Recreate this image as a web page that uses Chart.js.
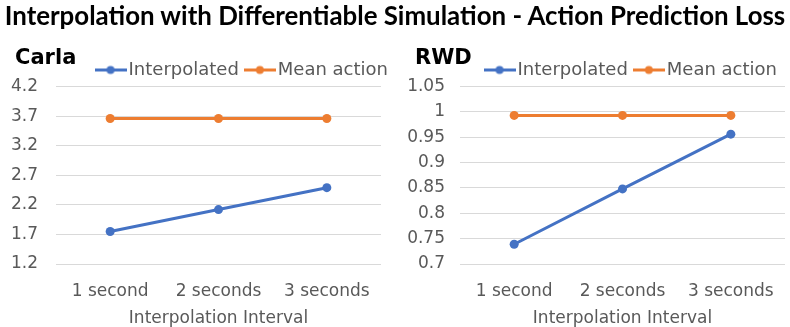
<!DOCTYPE html>
<html><head><meta charset="utf-8">
<script src="https://cdn.jsdelivr.net/npm/chart.js@4.4.0/dist/chart.umd.min.js"></script>
<style>
html,body{margin:0;padding:0;background:#fff;}
#wrap{position:relative;width:790px;height:327px;overflow:hidden;background:#fff;}
canvas{position:absolute;top:0;}
#title{position:absolute;left:0;top:0;width:790px;text-align:center;font-family:Lato,"DejaVu Sans",sans-serif;font-weight:bold;color:#000;white-space:nowrap;line-height:1.2;font-size:20px;}
.sub{position:absolute;top:45px;font-family:"DejaVu Sans",sans-serif;font-weight:bold;font-size:21px;color:#000;line-height:1.2;white-space:nowrap;}
</style></head><body>
<div id="wrap">
<canvas id="carla" width="400" height="327" style="left:0px"></canvas>
<canvas id="rwd" width="395" height="327" style="left:395px"></canvas>
<div id="title">Interpolation with Differentiable Simulation - Action Prediction Loss</div>
<div class="sub" style="left:15px">Carla</div>
<div class="sub" style="left:415px">RWD</div>
</div>
<script>
// ---- data ----
const categories = ['1 second', '2 seconds', '3 seconds'];
const seriesNames = ['Interpolated', 'Mean action'];
const carlaInterpolated = [1.75, 2.12, 2.49];
const carlaMeanAction = [3.66, 3.66, 3.66];
const rwdInterpolated = [0.739, 0.848, 0.956];
const rwdMeanAction = [0.993, 0.993, 0.993];
const carlaTickValues = [1.2, 1.7, 2.2, 2.7, 3.2, 3.7, 4.2];
const carlaTickLabels = ['1.2', '1.7', '2.2', '2.7', '3.2', '3.7', '4.2'];
const rwdTickValues = [0.7, 0.75, 0.8, 0.85, 0.9, 0.95, 1, 1.05];
const rwdTickLabels = ['0.7', '0.75', '0.8', '0.85', '0.9', '0.95', '1', '1.05'];
const xTitle = 'Interpolation Interval';

// ---- styles ----
const BLUE = '#4472C4', ORANGE = '#ED7D31', GRAY = '#595959', GRID = '#D9D9D9';
const FONT = '"DejaVu Sans", sans-serif';

// fit main title width
(function(){
  const el = document.getElementById('title');
  const c = document.createElement('canvas').getContext('2d');
  c.font = 'bold 20px Lato';
  const w = c.measureText(el.textContent).width;
  const fs = 20 * 782 / w;
  el.style.fontSize = fs.toFixed(2) + 'px';
})();

function legendImage(color){
  const c = document.createElement('canvas');
  c.width = 32; c.height = 11;
  const g = c.getContext('2d');
  g.strokeStyle = color; g.lineWidth = 3;
  g.beginPath(); g.moveTo(0, 5.5); g.lineTo(32, 5.5); g.stroke();
  g.fillStyle = color;
  g.beginPath(); g.arc(16, 5.5, 4, 0, Math.PI * 2); g.fill();
  return c;
}
const legendImgs = [legendImage(BLUE), legendImage(ORANGE)];

function makeChart(id, interp, mean, tickValues, tickLabels, yAxisWidth, yPad, rightPad, dummyRight){
  const scales = {
    x: {
      type: 'category', offset: true,
      grid: {display: false}, border: {display: false},
      ticks: {color: GRAY, font: {family: FONT, size: 17}, padding: 9, maxRotation: 0},
      title: {display: true, text: xTitle, color: GRAY, font: {family: FONT, size: 17}, padding: {top: 4, bottom: -2}},
      afterFit: s => { s.height = 63; }
    },
    y: {
      type: 'linear',
      min: tickValues[0], max: tickValues[tickValues.length - 1],
      grid: {color: GRID, lineWidth: 1, drawTicks: false},
      border: {display: false},
      ticks: {color: GRAY, font: {family: FONT, size: 17}, padding: yPad,
              callback: (v, i) => tickLabels[i]},
      afterBuildTicks: s => { s.ticks = tickValues.map(v => ({value: v})); },
      afterFit: s => { s.width = yAxisWidth; }
    }
  };
  if (dummyRight) {
    scales.yR = {
      type: 'linear', position: 'right', display: true,
      grid: {display: false}, border: {display: false}, ticks: {display: false},
      afterFit: s => { s.width = dummyRight; }
    };
  }
  return new Chart(document.getElementById(id), {
    type: 'line',
    data: {
      labels: categories,
      datasets: [
        {label: seriesNames[0], data: interp, borderColor: BLUE, backgroundColor: BLUE,
         borderWidth: 3, pointRadius: 4.5, pointBackgroundColor: BLUE, pointBorderColor: BLUE, pointBorderWidth: 0, tension: 0, yAxisID: 'y'},
        {label: seriesNames[1], data: mean, borderColor: ORANGE, backgroundColor: ORANGE,
         borderWidth: 3, pointRadius: 4.5, pointBackgroundColor: ORANGE, pointBorderColor: ORANGE, pointBorderWidth: 0, tension: 0, yAxisID: 'y'}
      ]
    },
    options: {
      responsive: false, animation: false,
      layout: {padding: {top: 49, left: 0, right: rightPad, bottom: 0}},
      plugins: {
        tooltip: {enabled: false},
        legend: {
          position: 'top', align: 'end', maxHeight: 37.5,
          labels: {
            usePointStyle: true, pointStyleWidth: 18, padding: 12, color: GRAY,
            font: {family: FONT, size: 18},
            generateLabels: chart => {
              const items = Chart.defaults.plugins.legend.labels.generateLabels(chart);
              items.forEach((it, i) => { it.pointStyle = legendImgs[i]; });
              return items;
            }
          }
        }
      },
      scales
    }
  });
}

makeChart('carla', carlaInterpolated, carlaMeanAction, carlaTickValues, carlaTickLabels, 56, 18, 0, 19);
makeChart('rwd', rwdInterpolated, rwdMeanAction, rwdTickValues, rwdTickLabels, 65, 15, 1, 4);
</script>
</body></html>
